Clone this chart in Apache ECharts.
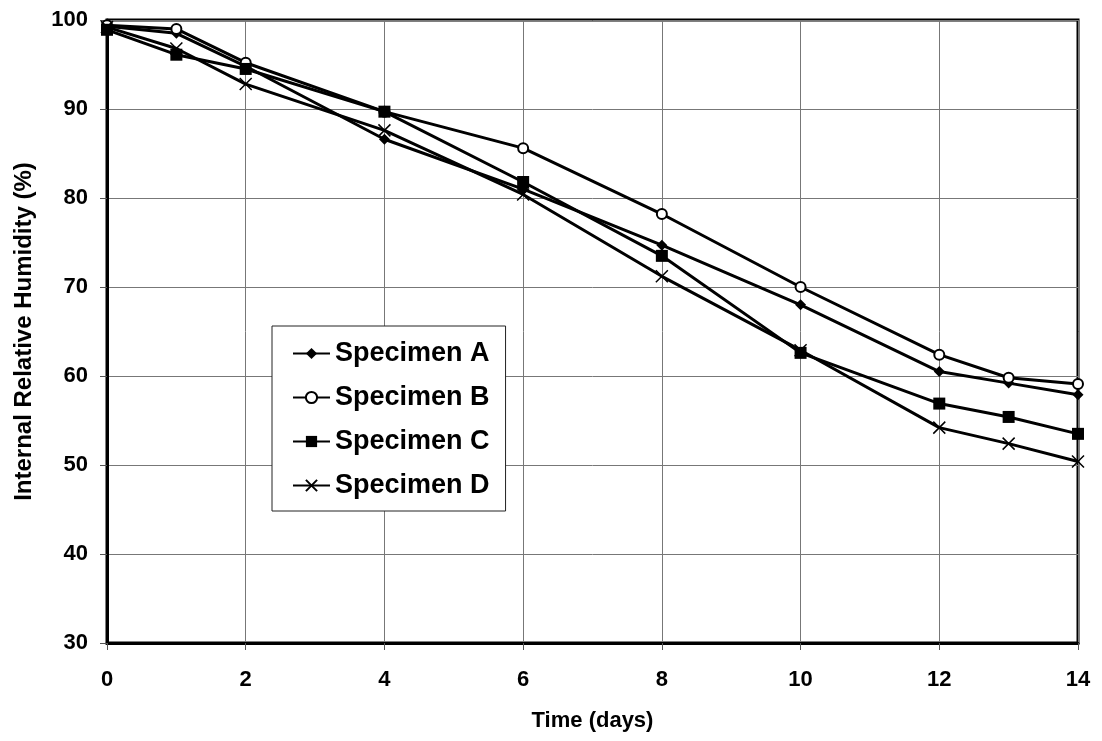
<!DOCTYPE html>
<html lang="en">
<head>
	<meta charset="UTF-8">
	<title>Internal Relative Humidity</title>
	<script src="https://cdn.jsdelivr.net/npm/echarts@6/dist/echarts.min.js"></script>
	<style>
		html, body { margin: 0; padding: 0; background: #fff; }
		#chart { width: 1102px; height: 741px; }
	</style>
</head>
<body>
	<div id="chart"></div>

	<script type="text/javascript">
		var days = [0, 1, 2, 4, 6, 8, 10, 12, 13, 14];
		var specimenA = [99.3, 98.5, 94.8, 86.6, 81.0, 74.7, 68.0, 60.5, 59.2, 57.9];
		var specimenB = [99.4, 99.0, 95.2, 89.7, 85.6, 78.2, 70.0, 62.4, 59.8, 59.1];
		var specimenC = [98.9, 96.1, 94.5, 89.7, 81.8, 73.5, 62.6, 56.9, 55.4, 53.5];
		var specimenD = [99.2, 96.8, 92.8, 87.6, 80.4, 71.2, 62.9, 54.2, 52.4, 50.4];
		var names = ['Specimen A', 'Specimen B', 'Specimen C', 'Specimen D'];

		var font = '"Liberation Sans", Arial, sans-serif';

		function pairs(vals) {
			return days.map(function (d, i) { return [d, vals[i]]; });
		}

		function makeSeries(name, vals, symbol, size, itemStyle) {
			return {
				name: name,
				type: 'line',
				data: pairs(vals),
				symbol: symbol,
				symbolSize: size,
				showAllSymbol: true,
				lineStyle: { color: '#000', width: 3 },
				itemStyle: itemStyle,
				emphasis: { disabled: true },
				z: 3
			};
		}

		var chart = echarts.init(document.getElementById('chart'));
		var option = {
			animation: false,
			backgroundColor: '#fff',
			textStyle: { fontFamily: font },
			grid: {
				left: 107, right: 24, top: 20, bottom: 98,
				show: true, borderColor: '#000', borderWidth: 3,
				containLabel: false
			},
			legend: {
				orient: 'vertical',
				left: 272, top: 326,
				padding: [14, 16, 12, 20],
				itemWidth: 37, itemHeight: 14,
				itemGap: 17,
				backgroundColor: '#fff',
				borderColor: '#222', borderWidth: 1,
				textStyle: { fontSize: 27, fontWeight: 'bold', color: '#000', fontFamily: font },
				data: names
			},
			xAxis: {
				type: 'value',
				min: 0, max: 14, interval: 2,
				name: 'Time (days)',
				nameLocation: 'middle',
				nameGap: 67,
				nameTextStyle: { fontSize: 22, fontWeight: 'bold', color: '#000', fontFamily: font },
				axisLine: { show: true, lineStyle: { color: '#000', width: 3 } },
				axisTick: { show: true, inside: false, length: 7, lineStyle: { color: '#555', width: 1 } },
				axisLabel: { fontSize: 22, fontWeight: 'bold', color: '#000', margin: 26, fontFamily: font },
				splitLine: { show: true, lineStyle: { color: '#777', width: 1 } }
			},
			yAxis: {
				type: 'value',
				min: 30, max: 100, interval: 10,
				name: 'Internal Relative Humidity (%)',
				nameLocation: 'middle',
				nameGap: 71,
				nameTextStyle: { fontSize: 24, fontWeight: 'bold', color: '#000', fontFamily: font },
				axisLine: { show: true, lineStyle: { color: '#000', width: 3 } },
				axisTick: { show: true, inside: false, length: 7, lineStyle: { color: '#555', width: 1 } },
				axisLabel: { fontSize: 22, fontWeight: 'bold', color: '#000', margin: 19, fontFamily: font },
				splitLine: { show: true, lineStyle: { color: '#777', width: 1 } }
			},
			series: [
				makeSeries(names[0], specimenA, 'diamond', 11, { color: '#000' }),
				makeSeries(names[1], specimenB, 'emptyCircle', 10, { color: '#000', borderColor: '#000', borderWidth: 1.5 }),
				makeSeries(names[2], specimenC, 'rect', 12, { color: '#000' }),
				makeSeries(names[3], specimenD, 'path://M0,0L10,10M10,0L0,10', 12, { color: 'none', borderColor: '#000', borderWidth: 1.5 })
			]
		};
		chart.setOption(option);
	</script>
</body>
</html>
